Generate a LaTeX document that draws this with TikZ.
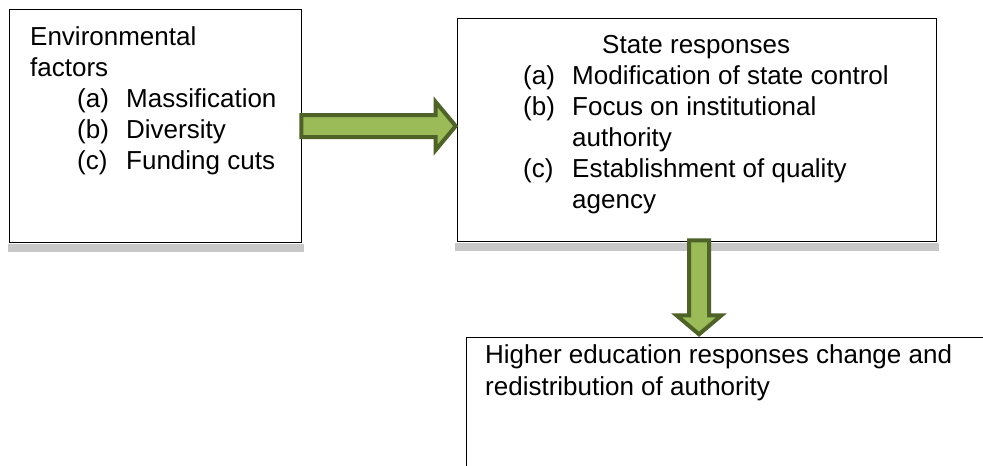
\documentclass[tikz,border=0pt]{standalone}
\usepackage{fontspec}
\setmainfont{Liberation Sans}
\usetikzlibrary{calc}
\definecolor{arrowfill}{HTML}{9BBB59}
\definecolor{arrowline}{HTML}{4F6228}
\definecolor{shadowgray}{HTML}{C8C8C8}
\begin{document}
\begin{tikzpicture}[x=1pt,y=-1pt,
  box/.style={draw=black, line width=1.3pt, fill=white, inner sep=0pt, anchor=north west},
  boxshadow/.style={fill=shadowgray, draw=none},
  txt/.style={anchor=base west, inner sep=0pt, font=\fontsize{26}{31}\selectfont},
  blockarrow/.style={fill=arrowfill, draw=arrowline, line width=4pt, line join=miter}]
\clip (0,0) rectangle (983,466);
\fill[white] (0,0) rectangle (983,466);

% the three boxes
\node[box, minimum width=292pt, minimum height=233pt] (env) at (9,9) {};
\node[box, minimum width=479pt, minimum height=223pt] (state) at (457,18) {};
\node[box, minimum width=560pt, minimum height=160pt] (hed) at (466,337) {};

% soft shadows under the upper boxes
\fill[boxshadow] ($(env.south west)+(-1,0.7)$) rectangle ($(env.south east)+(1.5,8.5)$);
\fill[boxshadow] ($(state.south west)+(-2,0.7)$) rectangle ($(state.south east)+(1.5,9)$);

% box texts
\node[txt] (e0) at (30,45) {Environmental};
\node[txt] (e1) at (30,76) {factors};
\node[txt] (e2l) at (77,107) {(a)};
\node[txt] (e2) at (126,107) {Massification};
\node[txt] (e3l) at (77,138) {(b)};
\node[txt] (e3) at (126,138) {Diversity};
\node[txt] (e4l) at (77,169) {(c)};
\node[txt] (e4) at (126,169) {Funding cuts};

\node[txt] (s0) at (602,53) {State responses};
\node[txt] (s1l) at (523,84) {(a)};
\node[txt] (s1) at (572,84) {Modification of state control};
\node[txt] (s2l) at (523,115) {(b)};
\node[txt] (s2) at (572,115) {Focus on institutional};
\node[txt] (s3) at (572,146) {authority};
\node[txt] (s4l) at (523,177) {(c)};
\node[txt] (s4) at (572,177) {Establishment of quality};
\node[txt] (s5) at (572,208) {agency};

\node[txt] (h0) at (485,363) {Higher education responses change and};
\node[txt] (h1) at (485,395) {redistribution of authority};

% block arrow: environmental factors -> state responses
\coordinate (lvl) at (0,126);
\coordinate (a1s) at ($(env.east |- lvl)+(-1,0)$);
\coordinate (a1t) at ($(state.west |- lvl)+(-1.3,0)$);
\draw[blockarrow] ($(a1s)+(0,-11)$) -- ($(a1t)+(-20,-11)$) -- ($(a1t)+(-20,-24)$)
  -- (a1t) -- ($(a1t)+(-20,24)$) -- ($(a1t)+(-20,11)$) -- ($(a1s)+(0,11)$) -- cycle;

% block arrow: state responses -> higher education responses
\coordinate (col) at (699,0);
\coordinate (a2s) at ($(state.south -| col)+(0,-2)$);
\coordinate (a2t) at ($(hed.north -| col)+(0,-2.7)$);
\draw[blockarrow] ($(a2s)+(-10,0)$) -- ($(a2t)+(-10,-19)$) -- ($(a2t)+(-22.5,-19)$)
  -- (a2t) -- ($(a2t)+(22.5,-19)$) -- ($(a2t)+(10,-19)$) -- ($(a2s)+(10,0)$) -- cycle;
\end{tikzpicture}
\end{document}
